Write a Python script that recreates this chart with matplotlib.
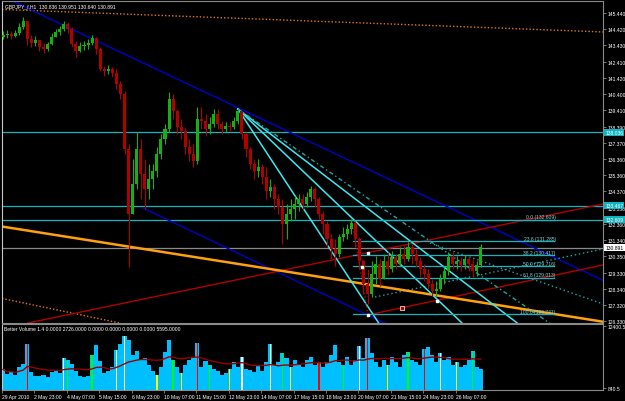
import numpy as np
import pandas as pd
import matplotlib
matplotlib.use('Agg')
import matplotlib.pyplot as plt
import matplotlib.transforms as mtransforms

# H1 chart shown as 4-hour candles (x in hours from 29 Apr 2010)
first_open = 143.95
closes = [144.07, 144.14, 144.01, 144.20, 144.57, 144.94, 143.83, 143.58, 143.76, 143.33,
          143.21, 143.52, 143.95, 144.26, 144.45, 144.76, 144.45, 143.52, 143.08, 143.39,
          143.45, 143.58, 143.89, 143.21, 141.97, 141.84, 141.97, 141.72, 141.04, 140.42,
          137.00, 132.97, 134.83, 137.00, 135.45, 134.52, 135.14, 135.64, 136.69, 137.62,
          138.24, 140.11, 139.36, 138.37, 138.12, 137.13, 136.69, 136.26, 138.86, 138.74,
          138.24, 138.55, 139.17, 138.55, 138.24, 138.43, 138.37, 138.74, 139.36, 137.93,
          137.00, 136.07, 135.64, 135.89, 135.27, 134.40, 134.65, 133.90, 133.41, 132.35,
          132.97, 133.28, 133.59, 133.90, 133.59, 134.03, 134.52, 133.90, 132.97, 132.35,
          131.42, 130.80, 130.49, 131.55, 131.73, 132.04, 132.41, 131.42, 130.06, 128.63,
          128.01, 129.25, 129.87, 128.94, 130.06, 129.56, 130.31, 129.87, 130.49, 130.17,
          130.92, 130.49, 130.06, 129.56, 129.25, 128.63, 128.20, 128.32, 128.94, 129.44,
          130.31, 129.87, 130.06, 129.81, 130.17, 129.87, 129.44, 129.81, 130.891]
highs = [144.32, 144.38, 144.32, 144.38, 144.82, 145.19, 144.70, 144.07, 144.01, 143.70,
         143.58, 143.64, 144.20, 144.45, 144.63, 144.94, 144.88, 144.57, 143.70, 143.64,
         143.70, 143.83, 144.07, 143.95, 143.33, 142.15, 142.21, 142.09, 141.97, 141.22,
         140.60, 137.31, 136.38, 138.06, 137.62, 136.38, 136.07, 136.07, 137.13, 137.93,
         138.55, 140.54, 140.42, 139.48, 138.86, 138.37, 137.62, 137.31, 139.61, 139.61,
         139.17, 138.99, 139.48, 139.48, 138.74, 138.68, 138.68, 138.99, 139.48, 139.36,
         138.06, 137.13, 136.38, 136.38, 136.07, 135.89, 135.14, 134.83, 134.21, 133.90,
         133.59, 133.90, 134.09, 134.21, 134.21, 134.34, 134.71, 134.65, 134.03, 133.16,
         132.54, 131.73, 131.42, 131.73, 132.17, 132.35, 132.66, 132.54, 131.55, 130.17,
         129.56, 130.06, 130.37, 130.17, 130.49, 130.61, 130.68, 130.49, 130.92, 130.99,
         131.23, 131.11, 130.80, 130.31, 129.87, 129.56, 128.94, 128.82, 129.25, 129.68,
         130.61, 130.61, 130.37, 130.31, 130.43, 130.37, 130.17, 130.06, 131.11]
lows = [143.83, 143.89, 143.83, 143.95, 144.07, 144.45, 143.45, 143.33, 143.39, 143.08,
        142.96, 143.08, 143.45, 143.95, 144.07, 144.32, 144.20, 143.33, 142.71, 143.02,
        143.14, 143.21, 143.45, 142.90, 141.84, 141.53, 141.66, 141.47, 140.73, 140.11,
        136.69, 129.68, 132.97, 134.52, 133.90, 133.28, 133.90, 134.52, 135.27, 136.38,
        137.31, 138.06, 138.86, 137.93, 137.62, 136.69, 136.26, 135.89, 136.07, 138.24,
        137.81, 137.93, 138.37, 138.24, 137.93, 138.06, 138.12, 138.24, 138.55, 137.62,
        136.51, 135.76, 135.14, 135.27, 134.83, 133.90, 134.03, 133.28, 132.97, 131.11,
        131.42, 132.54, 132.66, 133.16, 133.28, 133.41, 133.78, 133.41, 132.66, 131.73,
        130.92, 130.17, 129.75, 130.31, 131.29, 131.42, 131.73, 130.92, 129.56, 128.01,
        127.39, 127.82, 128.63, 128.51, 129.25, 129.19, 129.37, 129.56, 129.75, 129.87,
        130.06, 129.87, 129.68, 129.07, 128.82, 128.32, 127.89, 127.89, 128.20, 128.63,
        129.19, 129.56, 129.56, 129.44, 129.56, 129.44, 129.07, 129.13, 129.68]

volumes = [4300, 3500, 3900, 3300, 4800, 5300, 9000, 3900, 3100, 3000,
           3300, 2800, 3800, 4100, 3600, 6500, 6000, 5400, 4100, 3100,
           2800, 3100, 7000, 8800, 5800, 3600, 4000, 4800, 8000, 9000,
           10500, 9800, 7000, 7800, 6000, 6500, 5200, 4000, 3300, 4800,
           7500, 9800, 6000, 4800, 3600, 5200, 6000, 6600, 9200, 4800,
           5800, 5200, 4400, 4000, 3300, 3600, 4400, 5600, 4800, 6600,
           4400, 4200, 3800, 5000, 4000, 5600, 9000, 5200, 5600, 7400,
           6400, 4800, 6000, 5200, 4800, 6000, 6600, 5200, 5600, 4800,
           5600, 7000, 8800, 5600, 5200, 6600, 5200, 6000, 8600, 6400,
           10200, 7400, 5600, 4800, 6000, 5200, 6600, 5600, 4800, 7000,
           7600, 6000, 5600, 5200, 8200, 8400, 7000, 5600, 7400, 6000,
           6600, 5200, 5600, 4800, 5200, 6000, 7800, 4800, 4400]
vol_colors = {6: 'red', 15: 'white', 16: 'lime', 22: 'lime', 28: 'white', 30: 'white',
              38: 'yellow', 42: 'lime', 44: 'yellow', 48: 'red', 51: 'lime', 56: 'yellow',
              59: 'white', 66: 'white', 69: 'lime', 71: 'yellow', 78: 'red', 84: 'lime',
              88: 'white', 90: 'red', 95: 'yellow', 100: 'lime', 104: 'red', 108: 'white',
              112: 'yellow', 116: 'lime'}

price_ticks = [145.440, 144.420, 143.430, 142.410, 141.420, 140.400, 139.410, 138.390,
               137.370, 136.360, 135.360, 134.370, 133.350, 132.360, 131.340, 130.350,
               129.330, 128.340, 127.320, 126.330]
time_labels = ['29 Apr 2010', '2 May 23:00', '4 May 07:00', '5 May 15:00', '6 May 23:00',
               '10 May 07:00', '11 May 15:00', '12 May 23:00', '14 May 07:00', '17 May 15:00',
               '18 May 23:00', '20 May 07:00', '21 May 15:00', '24 May 23:00', '26 May 07:00']

fib_levels = ['0.0', '23.6', '38.2', '50.0', '61.8', '100.0']
fib_prices = [132.609, 131.285, 130.417, 129.716, 129.013, 126.741]

h_lines = [138.036, 133.467, 132.609]
last_price = 130.891

# trend line anchors (hour, price)
pivot = (232, 139.48)
fan_ends = [(370.4, 126.27), (452.3, 126.27), (506.6, 126.27)]
fan_dotted_end = (538.3, 126.27)

BG = 'black'
CYAN_H = '#18b4bc'
CYAN_F = '#3ee8f0'
TEAL = '#1fa6a6'
BLUE = '#0000c8'
RED = '#b00000'
ORANGE = '#ffa010'
GREY = '#8a8a8a'
FS = 3.6

plt.rcParams['font.family'] = ['Liberation Sans', 'DejaVu Sans']

fig = plt.figure(figsize=(6.25, 4.02), dpi=100, facecolor=BG)
ax = fig.add_axes([2 / 625, 78 / 402, 601 / 625, 322 / 402], facecolor=BG)
axv = fig.add_axes([2 / 625, 11 / 402, 601 / 625, 66 / 402], facecolor=BG, sharex=ax)

XMAX = 592.6
ax.set_xlim(-1, XMAX)
ax.set_ylim(126.21, 146.18)


def ray(a, p1, p2, **kw):
    x_end = XMAX + 10
    slope = (p2[1] - p1[1]) / (p2[0] - p1[0])
    a.plot([p1[0], x_end], [p1[1], p1[1] + slope * (x_end - p1[0])], **kw)


# horizontal lines
for p in h_lines:
    ax.axhline(p, color=CYAN_H, lw=0.9, zorder=1)
ax.axhline(last_price, color=GREY, lw=0.9, zorder=1)

# channels / trend lines
ax.axline((-3, 145.66), (592.6, 144.26), color='#e07a10', lw=1, ls=(0, (1, 1.5)), zorder=1)
ax.axline((-3, 127.76), (110.6, 126.27), color='#e07a10', lw=1, ls=(0, (1, 1.5)), zorder=1)
ax.axline((95.8, 131.23), (263.7, 129.56), color=ORANGE, lw=1.8, zorder=2)
ax.axline((171.8, 141.35), (481.0, 132.17), color=BLUE, lw=1, zorder=1)
ray(ax, (138.3, 133.34), (260.7, 129.68), color=BLUE, lw=1, zorder=1)
ax.axline((243.9, 129.06), (592.6, 133.59), color=RED, lw=1, zorder=1)
ray(ax, (360.5, 126.71), (592.6, 129.81), color=RED, lw=1, zorder=1)
ray(ax, (421.7, 131.17), (592.6, 127.39), color=TEAL, lw=1, ls=(0, (1, 2)), zorder=1)
ray(ax, (367.4, 127.82), (592.6, 130.80), color=TEAL, lw=1, ls=(0, (1, 2)), zorder=1)
ax.plot([344.7, 360.5], [132.54, 126.71], color=RED, lw=1, ls=(0, (1, 1.5)), zorder=3)

# speed fan from the 12 May high
for end in fan_ends:
    ray(ax, pivot, end, color=CYAN_F, lw=1.1, zorder=2)
ray(ax, pivot, fan_dotted_end, color=TEAL, lw=1, ls=(0, (3, 2, 1, 2)), zorder=2)

# fibonacci retracement
for lvl, p in zip(fib_levels, fib_prices):
    ax.plot([346, 544], [p, p], color=CYAN_H, lw=0.9, zorder=2)
    ax.text(546, p + 0.04, f'{lvl} ({p:.3f})', color='#7fd6d6', fontsize=FS,
            ha='right', va='bottom', zorder=4)

# candles
x = np.arange(len(closes)) * 4
opens = [first_open] + closes[:-1]
for xi, o, h, l, c in zip(x, opens, highs, lows, closes):
    col = '#14b014' if c >= o else '#b00000'
    ax.vlines(xi, min(l, o, c), max(h, o, c), color=col, lw=0.8, zorder=3)
    ax.bar(xi, abs(c - o) + 0.02, bottom=min(o, c), width=3.0, color=col,
           linewidth=0, zorder=3)

# pitchfork handles
ax.scatter([354.6, 360.5, 428.6, 360.5], [129.68, 130.55, 127.58, 126.71],
           s=4, marker='s', color='white', zorder=5)
ax.scatter([394.1], [127.14], s=6, marker='s', color=RED, edgecolors='white',
           linewidths=0.5, zorder=5)

# right price scale
ax.yaxis.tick_right()
ax.set_yticks(price_ticks)
ax.set_yticklabels([f'{p:.3f}' for p in price_ticks])
ax.tick_params(axis='y', colors=GREY, labelcolor='white', labelsize=FS, length=2,
               width=0.6, pad=1.2)
ax.tick_params(axis='x', bottom=False, labelbottom=False)

trans = mtransforms.blended_transform_factory(ax.transAxes, ax.transData)
for p in h_lines:
    ax.text(1.004, p, f'{p:.3f}', transform=trans, color='white', fontsize=FS,
            va='center', ha='left', zorder=6,
            bbox=dict(boxstyle='square,pad=0.2', fc='#10b4c0', ec='none'))
ax.text(1.004, last_price, f'{last_price:.3f}', transform=trans, color='black',
        fontsize=FS, va='center', ha='left', zorder=6,
        bbox=dict(boxstyle='square,pad=0.2', fc='white', ec='none'))

# volume panel
axv.set_ylim(467, 12773)
axv.bar(x, volumes, width=4.0, color='#00bfff', linewidth=0, zorder=2)
for i, col in vol_colors.items():
    axv.bar(x[i], volumes[i], width=1.3, color=col, linewidth=0, zorder=3)
vol_ma = pd.Series(volumes).rolling(20, min_periods=1).mean()
axv.plot(x, vol_ma, color='#9a0000', lw=1, zorder=4)

axv.yaxis.tick_right()
axv.set_yticks([12400.5, 840.5])
axv.set_yticklabels(['12400.5', '840.5'])
axv.tick_params(axis='y', colors=GREY, labelcolor='white', labelsize=FS, length=2,
                width=0.6, pad=1.2)
axv.set_xticks([32 * k - 1 for k in range(len(time_labels))])
axv.set_xticklabels(time_labels)
axv.tick_params(axis='x', colors=GREY, labelcolor='white', labelsize=FS, length=2,
                width=0.6, pad=1)
for lbl in axv.get_xticklabels():
    lbl.set_ha('left')
axv.text(0.004, 0.97, 'Better Volume 1.4 0.0000 2726.0000 0.0000 0.0000 0.0000 0.0000 5595.0000',
         transform=axv.transAxes, color='white', fontsize=FS, va='top', ha='left')

for a in (ax, axv):
    for s in a.spines.values():
        s.set_color(GREY)
        s.set_linewidth(0.8)
    a.spines['left'].set_color('#c8c8c8')

fig.text(5 / 625, 1 - 7 / 402, 'GBPJPY_f,H1  130.836 130.951 130.640 130.891',
         color='white', fontsize=FS, va='center', ha='left')

fig.savefig('out.png', dpi=100, facecolor=BG)
